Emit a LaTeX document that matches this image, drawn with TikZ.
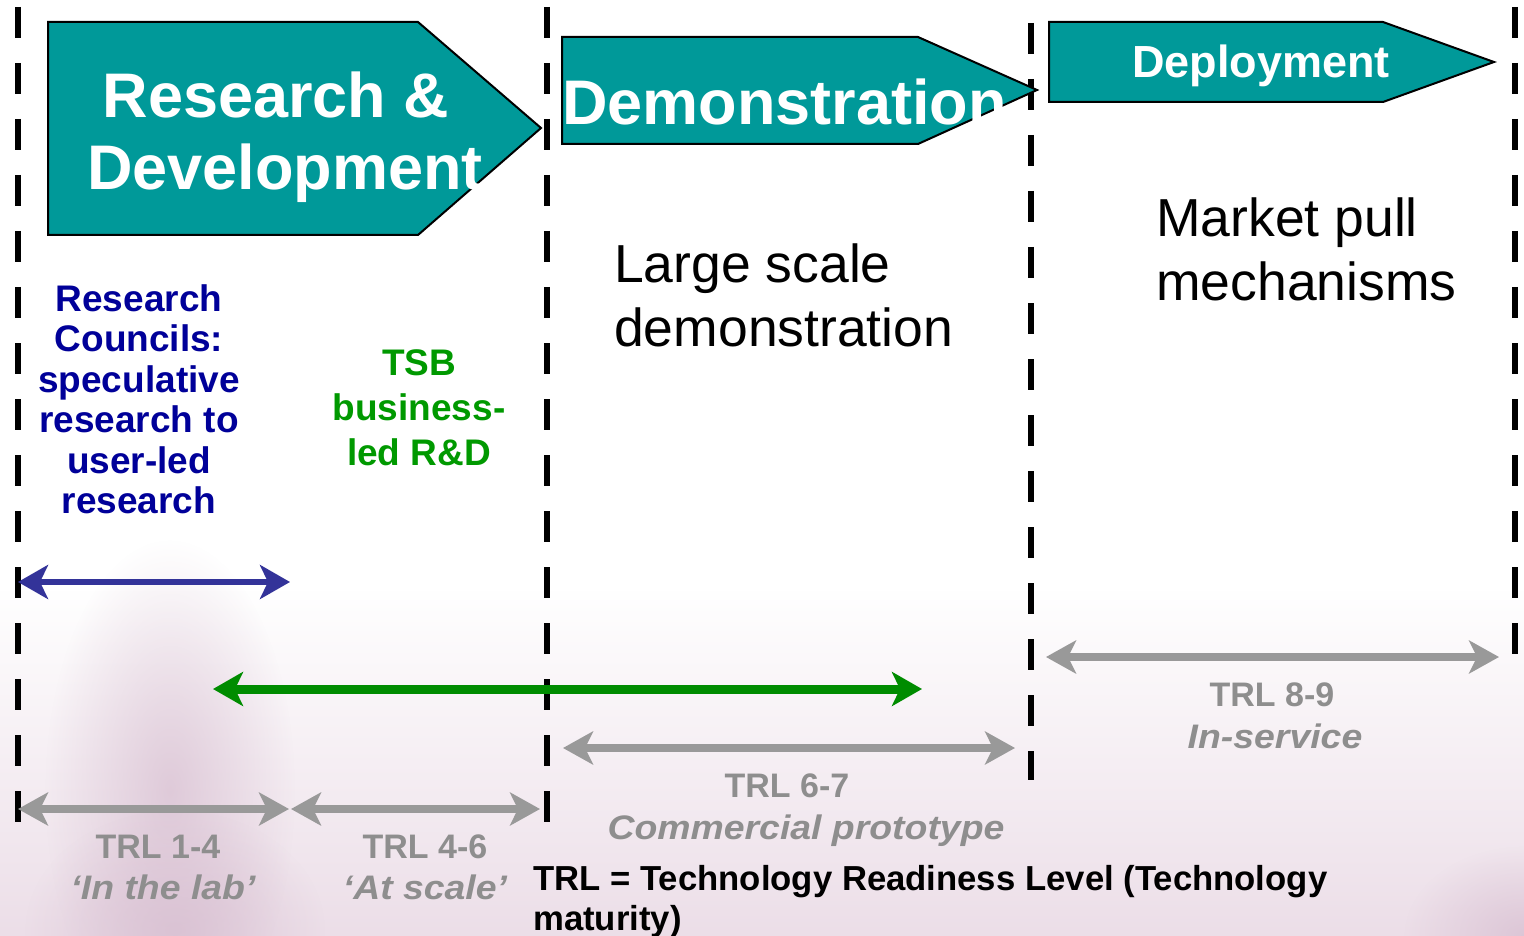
\documentclass[tikz,border=0pt]{standalone}
\usepackage{fontspec}
\setmainfont{Liberation Sans}
\newfontfamily\widesans[FakeStretch=1.1]{Liberation Sans}
\usetikzlibrary{arrows.meta,fadings}
\definecolor{tealfill}{HTML}{009999}
\definecolor{bluetxt}{HTML}{000099}
\definecolor{greentxt}{HTML}{009900}
\definecolor{arrowblue}{HTML}{333399}
\definecolor{arrowgreen}{HTML}{008C00}
\definecolor{arrowgray}{HTML}{999999}
\definecolor{graytxt}{HTML}{8E8E8E}
\definecolor{hazeA}{HTML}{ECDEE8}
\definecolor{hazeB}{HTML}{D6BCCF}
\tikzfading[name=hazeup, top color=transparent!100, bottom color=transparent!0]
\tikzfading[name=softblob, inner color=transparent!30, outer color=transparent!100]
\begin{document}
\begin{tikzpicture}[x=1pt,y=-1pt,
  dashline/.style={line width=6pt, dash pattern=on 31pt off 25pt},
  stage/.style={fill=tealfill, draw=black, line width=2pt, line join=miter},
  wtxt/.style={text=white, inner sep=0pt, font=\fontsize{63}{72}\selectfont\bfseries},
  blarrow/.style={draw=arrowblue, line width=6pt, {Stealth[length=30pt,width=34pt,inset=8pt]}-{Stealth[length=30pt,width=34pt,inset=8pt]}},
  grarrow/.style={draw=arrowgreen, line width=9pt, {Stealth[length=30pt,width=34pt,inset=8pt]}-{Stealth[length=30pt,width=34pt,inset=8pt]}},
  gyarrow/.style={draw=arrowgray, line width=8pt, {Stealth[length=30pt,width=33pt,inset=8pt]}-{Stealth[length=30pt,width=33pt,inset=8pt]}},
  plain/.style={inner sep=0pt, font=\fontsize{53.5}{64}\selectfont},
  trl/.style={inner sep=0pt, text=graytxt, font=\fontsize{34}{40}\selectfont\bfseries},
  trli/.style={inner sep=0pt, text=graytxt, font=\fontsize{34}{40}\selectfont\widesans\bfseries\itshape}
]
\useasboundingbox (0,0) rectangle (1524,936);
\fill[white] (0,0) rectangle (1524,936);
% background haze
\fill[hazeA, path fading=hazeup] (0,590) rectangle (1524,936);
\fill[hazeB, path fading=softblob] (170,790) ellipse [x radius=125, y radius=250];
\fill[hazeB, path fading=softblob] (175,930) ellipse [x radius=150, y radius=120];
\fill[hazeB, path fading=softblob] (1524,936) ellipse [x radius=120, y radius=90];

% dashed dividers
\coordinate (d1t) at (18,7);    \coordinate (d1b) at (18,822);
\coordinate (d2t) at (547,7);   \coordinate (d2b) at (547,822);
\coordinate (d3t) at (1031,23); \coordinate (d3b) at (1031,780);
\coordinate (d4t) at (1515,7);  \coordinate (d4b) at (1515,654);
\draw[dashline] (d1t) -- (d1b);
\draw[dashline] (d2t) -- (d2b);
\draw[dashline] (d3t) -- (d3b);
\draw[dashline] (d4t) -- (d4b);

% stage arrows
\draw[stage] (48,22) -- (418,22) -- (541,128) -- (418,235) -- (48,235) -- cycle;
\draw[stage] (562,37) -- (918,37) -- (1037,90) -- (918,144) -- (562,144) -- cycle;
\draw[stage] (1049,22) -- (1383,22) -- (1494,62) -- (1383,102) -- (1049,102) -- cycle;

\node[wtxt, anchor=base] (rd1) at (276,118) {Research \&};
\node[wtxt, anchor=base] (rd2) at (285,190) {Development};
\node[wtxt, anchor=base west] (demo) at (562,125) {Demonstration};
\node[wtxt, anchor=base, font=\fontsize{45}{52}\selectfont\bfseries] (dep) at (1261,78) {Deployment};

% descriptions
\node[plain, anchor=base west] (ls1) at (614,283) {Large scale};
\node[plain, anchor=base west] (ls2) at (614,346) {demonstration};
\node[plain, anchor=base west] (mp1) at (1156,237) {Market pull};
\node[plain, anchor=base west] (mp2) at (1156,300) {mechanisms};

\node[anchor=north, align=center, inner sep=0pt, text=bluetxt,
      font=\fontsize{37}{40.5}\selectfont\bfseries] (rc) at (139,284)
      {Research\\Councils:\\speculative\\research to\\user-led\\research};
\node[anchor=north, align=center, inner sep=0pt, text=greentxt,
      font=\fontsize{37}{45}\selectfont\bfseries] (tsb) at (419,349)
      {TSB\\business-\\led R\&D};

% range arrows
\coordinate (b1) at (18,582);   \coordinate (b2) at (290,582);
\coordinate (g1) at (213,689);  \coordinate (g2) at (922,689);
\coordinate (t89a) at (1046,657); \coordinate (t89b) at (1499,657);
\coordinate (t67a) at (563,748);  \coordinate (t67b) at (1015,748);
\coordinate (t14a) at (18,809);   \coordinate (t14b) at (289,809);
\coordinate (t46a) at (291,809);  \coordinate (t46b) at (540,809);
\draw[blarrow] (b1) -- (b2);
\draw[grarrow] (g1) -- (g2);
\draw[gyarrow] (t89a) -- (t89b);
\draw[gyarrow] (t67a) -- (t67b);
\draw[gyarrow] (t14a) -- (t14b);
\draw[gyarrow] (t46a) -- (t46b);

% TRL labels
\node[trl, anchor=base] (l89) at (1272,706) {TRL 8-9};
\node[trli, anchor=base] (l89i) at (1275,748) {In-service};
\node[trl, anchor=base] (l67) at (787,797) {TRL 6-7};
\node[trli, anchor=base] (l67i) at (806,839) {Commercial prototype};
\node[trl, anchor=base] (l14) at (158,858) {TRL 1-4};
\node[trli, anchor=base] (l14i) at (163,899) {‘In the lab’};
\node[trl, anchor=base] (l46) at (425,858) {TRL 4-6};
\node[trli, anchor=base] (l46i) at (425,899) {‘At scale’};

\node[anchor=north west, align=left, inner sep=0pt,
      font=\fontsize{34.7}{40}\selectfont\bfseries] (fn) at (533,865)
      {TRL = Technology Readiness Level (Technology\\maturity)};
\end{tikzpicture}
\end{document}
